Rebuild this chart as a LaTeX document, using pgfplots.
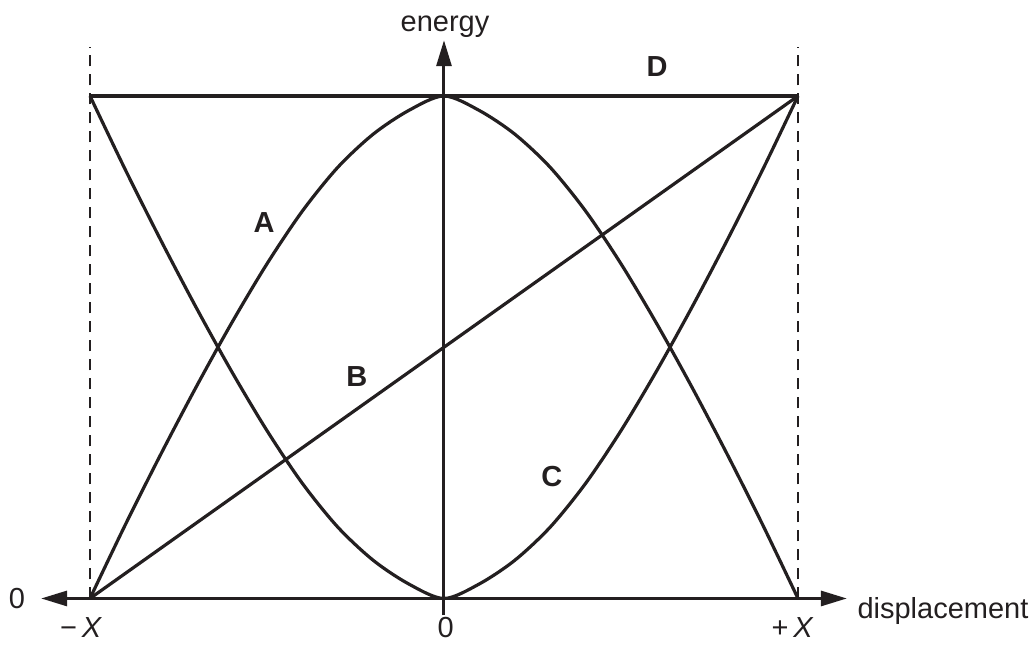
\documentclass[border=0pt]{standalone}
\usepackage{fontspec}
\setmainfont{Liberation Sans}
\usepackage{pgfplots}
\pgfplotsset{compat=1.18}
\usetikzlibrary{arrows.meta}
\definecolor{Ink}{HTML}{231F20}
\tikzset{
  lab/.style={font=\fontsize{14.5}{17}\selectfont,text=Ink},
  blab/.style={font=\fontsize{14.5}{17}\selectfont\bfseries,text=Ink},
  axline/.style={Ink,line width=1.5pt,>={Triangle[length=13pt,width=7.5pt]}}
}

% x in units of X, y in units of E; C, A drawn as E - C
\begin{document}
\begin{tikzpicture}
\begin{axis}[
  scale only axis,width=517.5pt,height=326.5pt,
  xmin=-1.2542,xmax=1.6695,ymin=-0.1085,ymax=1.1910,
  axis lines=none,ticks=none,clip=false,
  curve/.style={Ink,line width=1.6pt,smooth,no marks}]
  \path (rel axis cs:0,0) rectangle (rel axis cs:1,1);
  % dashed guides at +/- X
  \addplot[Ink,line width=0.6pt,dash pattern=on 5.5pt off 4pt] coordinates {(-1,0) (-1,1.0975)};
  \addplot[Ink,line width=0.6pt,dash pattern=on 5.5pt off 4pt] coordinates {(1,0) (1,1.0975)};
  % axes
  \draw[axline,<->] (axis cs:-1.138,0) -- (axis cs:1.138,0);
  \draw[axline,->] (axis cs:0,-0.033) -- (axis cs:0,1.111);
  % D
  \addplot[curve] coordinates {(-1,1) (1,1)};
  % B
  \addplot[curve] coordinates {(-1,0) (1,1)};
  % A
  \addplot[curve] coordinates {
    (-1,0) (-0.9,0.147) (-0.8,0.287) (-0.7,0.421) (-0.6,0.548) (-0.5,0.666)
    (-0.4,0.771) (-0.3,0.858) (-0.2,0.924) (-0.1,0.971) (0,1)
    (0.1,0.971) (0.2,0.924) (0.3,0.858) (0.4,0.771) (0.5,0.666)
    (0.6,0.548) (0.7,0.421) (0.8,0.287) (0.9,0.147) (1,0)};
  % C
  \addplot[curve] coordinates {
    (-1,1) (-0.9,0.853) (-0.8,0.713) (-0.7,0.579) (-0.6,0.452) (-0.5,0.334)
    (-0.4,0.229) (-0.3,0.142) (-0.2,0.076) (-0.1,0.029) (0,0)
    (0.1,0.029) (0.2,0.076) (0.3,0.142) (0.4,0.229) (0.5,0.334)
    (0.6,0.452) (0.7,0.579) (0.8,0.713) (0.9,0.853) (1,1)};
  % labels
  \node[lab] at (axis cs:-1.206,0) {0};
  \node[lab,anchor=base] at (axis cs:-1.025,-0.0786) {−\,\textit{X}};
  \node[lab,anchor=base] at (axis cs:0.005,-0.0786) {0};
  \node[lab,anchor=base] at (axis cs:0.985,-0.0786) {+\,\textit{X}};
  \node[lab,anchor=base west,inner sep=0pt] at (axis cs:1.167,-0.0408) {displacement};
  \node[lab,anchor=base] at (axis cs:0.003,1.128) {energy};
  \node[blab] at (axis cs:-0.508,0.749) {A};
  \node[blab] at (axis cs:-0.246,0.441) {B};
  \node[blab] at (axis cs:0.305,0.242) {C};
  \node[blab] at (axis cs:0.602,1.058) {D};
\end{axis}
\end{tikzpicture}
\end{document}
